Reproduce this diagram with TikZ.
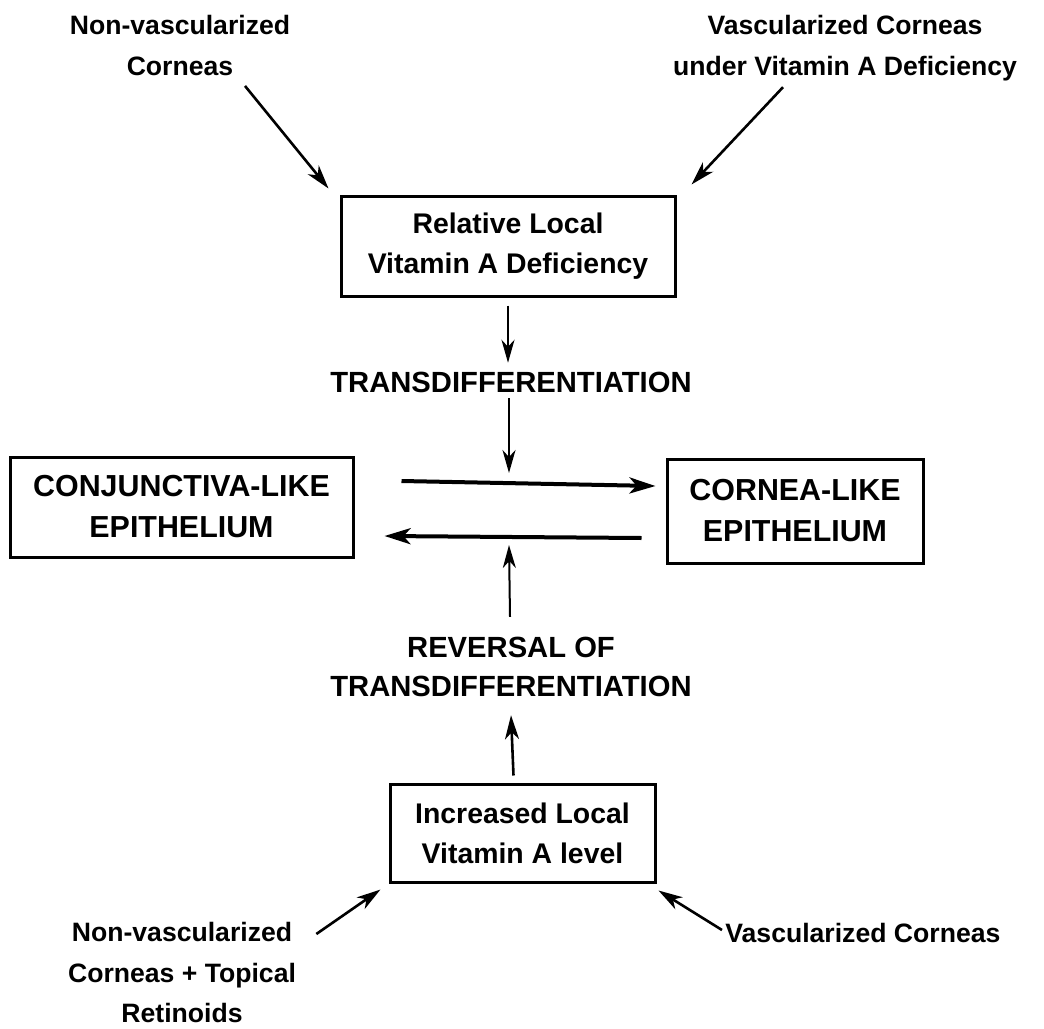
\documentclass[tikz,border=0pt]{standalone}
\usepackage{fontspec}
\setmainfont{Liberation Sans}
\usetikzlibrary{arrows.meta}
\tikzset{every picture/.style={/utils/exec={\bfseries}}}
\tikzset{
  lbl/.style={align=center, inner sep=0pt, font=\fontsize{13.3}{20.3}\selectfont\bfseries},
  capslbl/.style={align=center, inner sep=0pt, font=\fontsize{14.6}{19.5}\selectfont\bfseries},
  box/.style={draw, line width=1.5pt, align=center, inner sep=0pt, font=\fontsize{14.2}{20}\selectfont\bfseries},
  capsbox/.style={box, font=\fontsize{15.2}{20.5}\selectfont\bfseries},
  arr/.style={-{Stealth[length=12pt, width=7pt, inset=3.5pt]}, line width=1.3pt},
  varr/.style={-{Stealth[length=11.5pt, width=6.5pt, inset=3.5pt]}, line width=1pt},
  harr/.style={-{Stealth[length=13pt, width=8pt, inset=3.5pt]}, line width=2pt}
}

\begin{document}
\begin{tikzpicture}[x=0.5pt, y=-0.5pt]

  \useasboundingbox (0,0) rectangle (1044,1028);

  % sources on top
  \node [lbl, anchor=north] (nvup) at (180,15) {Non-vascularized\\Corneas};
  \node [lbl, anchor=north] (vdef) at (845,15) {Vascularized Corneas\\under Vitamin A Deficiency};
  \node [box, minimum width=167pt, minimum height=50pt] (reldef) at (508,246) {Relative Local\\Vitamin A Deficiency};
  \node [capslbl] (trans) at (511,382) {TRANSDIFFERENTIATION};

  % the two epithelia
  \node [capsbox, minimum width=171.5pt, minimum height=50pt] (conj) at (181.5,507) {CONJUNCTIVA-LIKE\\EPITHELIUM};
  \node [capsbox, minimum width=128pt, minimum height=52pt] (cornea) at (795,511) {CORNEA-LIKE\\EPITHELIUM};
  \coordinate (hub) at (509,509);

  % sources at the bottom
  \node [capslbl] (rev) at (511,667) {REVERSAL OF\\TRANSDIFFERENTIATION};
  \node [box, minimum width=132.5pt, minimum height=49pt] (incr) at (522.5,833) {Increased Local\\Vitamin A level};
  \node [lbl, anchor=north] (nvdown) at (182,922) {Non-vascularized\\Corneas + Topical\\Retinoids};
  \node [lbl, anchor=west] (vdown) at (725,933) {Vascularized Corneas};

  % arrows down
  \draw [arr] ([shift={(65,10)}]nvup.south) -- ([shift={(-11,-6)}]reldef.north west);
  \draw [arr] ([shift={(-62,6)}]vdef.south) -- ([shift={(15,-10)}]reldef.north east);
  \draw [varr] ([shift={(0,8)}]reldef.south) -- ([shift={(-3,-8.5)}]trans.north);
  \draw [varr] ([shift={(-2,5.5)}]trans.south) -- ([shift={(0,-36)}]hub);

  % forward and back:
  \draw [harr] ([shift={(47,-26)}]conj.east) -- ([shift={(-10,-25)}]cornea.west);
  \draw [harr] ([shift={(-24,27)}]cornea.west) -- ([shift={(30,29)}]conj.east);

  % arrows up
  \draw [varr] ([shift={(-1,-20)}]rev.north) -- ([shift={(0,36)}]hub);
  \draw [arr] ([shift={(-9,-7)}]incr.north) -- ([shift={(0,18)}]rev.south);
  \draw [arr] ([shift={(20,12)}]nvdown.north east) -- ([shift={(-8,6)}]incr.south west);
  \draw [arr] ([shift={(-3,-3)}]vdown.west) -- ([shift={(2,7)}]incr.south east);

\end{tikzpicture}
\end{document}
